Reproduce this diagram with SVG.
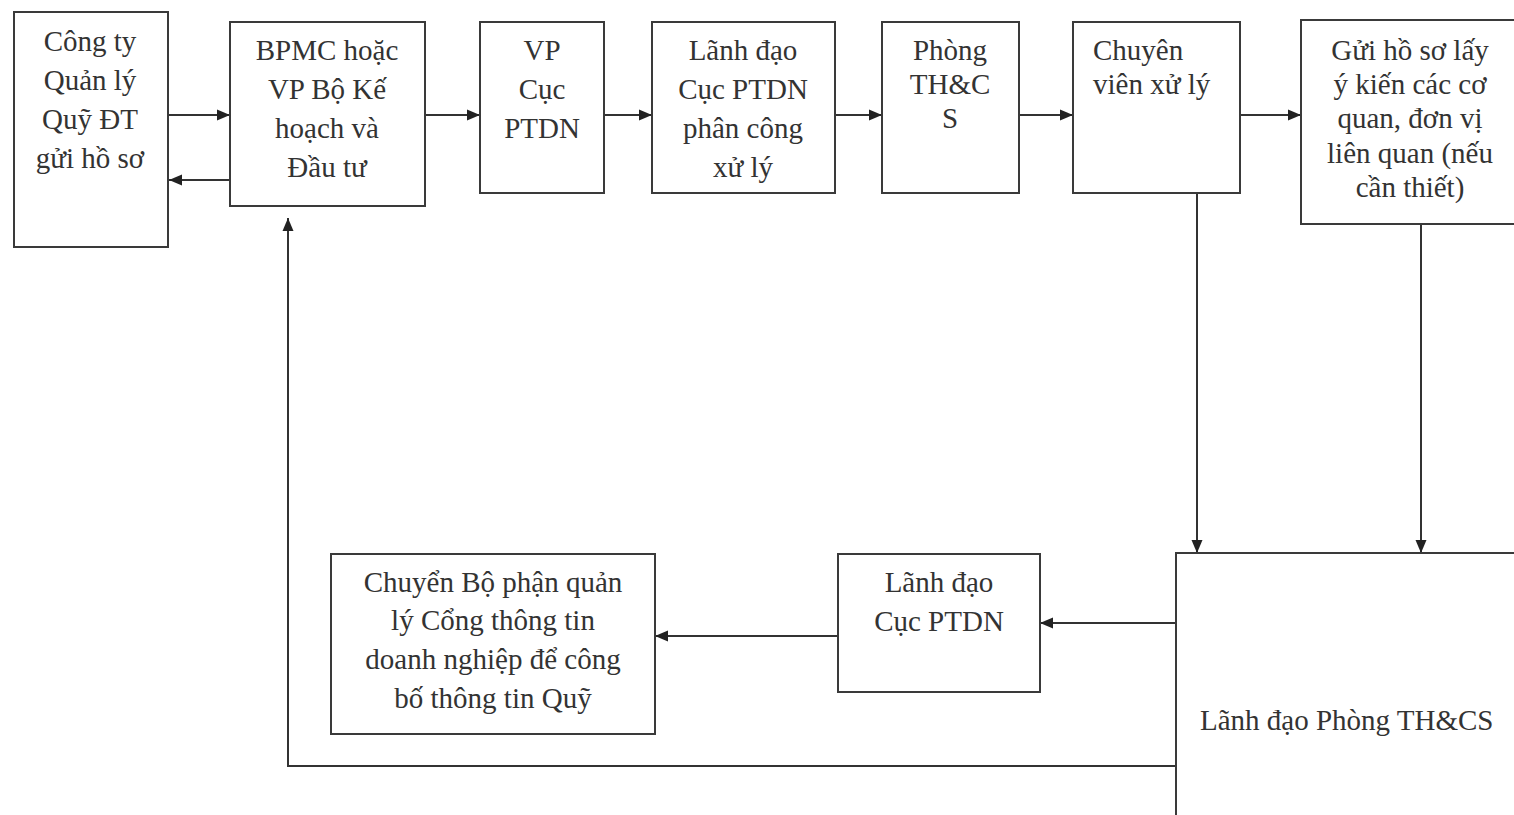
<svg xmlns="http://www.w3.org/2000/svg" width="1514" height="815" viewBox="0 0 1514 815">
<defs>
<marker id="ah" markerUnits="userSpaceOnUse" markerWidth="14" markerHeight="12" refX="13" refY="6" orient="auto">
<path d="M0,0.5 L13,6 L0,11.5 z" fill="#222"/>
</marker>
<style>
.box{fill:#fff;stroke:#3a3a3a;stroke-width:2}
.t{font-family:"Liberation Serif","Times New Roman",serif;font-size:29px;fill:#333;text-anchor:middle}
.l{text-anchor:start}
.c{fill:none;stroke:#333;stroke-width:2}
</style>
</defs>
<rect width="1514" height="815" fill="#fff"/>
<g id="connectors">
<line class="c" x1="168" y1="115" x2="230" y2="115" marker-end="url(#ah)"/>
<line class="c" x1="230" y1="180" x2="169" y2="180" marker-end="url(#ah)"/>
<line class="c" x1="425" y1="115" x2="480" y2="115" marker-end="url(#ah)"/>
<line class="c" x1="604" y1="115" x2="652" y2="115" marker-end="url(#ah)"/>
<line class="c" x1="835" y1="115" x2="882" y2="115" marker-end="url(#ah)"/>
<line class="c" x1="1019" y1="115" x2="1073" y2="115" marker-end="url(#ah)"/>
<line class="c" x1="1240" y1="115" x2="1301" y2="115" marker-end="url(#ah)"/>
<line class="c" x1="1197" y1="193" x2="1197" y2="553" marker-end="url(#ah)"/>
<line class="c" x1="1421" y1="224" x2="1421" y2="553" marker-end="url(#ah)"/>
<line class="c" x1="1176" y1="623" x2="1040" y2="623" marker-end="url(#ah)"/>
<line class="c" x1="838" y1="636" x2="655" y2="636" marker-end="url(#ah)"/>
<polyline class="c" points="1176,766 288,766 288,218" marker-end="url(#ah)"/>
</g>
<g id="n1"><rect class="box" x="14" y="12" width="154" height="235"/>
<text class="t" x="90" y="51">Công ty</text><text class="t" x="90" y="90">Quản lý</text><text class="t" x="90" y="129">Quỹ ĐT</text><text class="t" x="90" y="168">gửi hồ sơ</text></g>
<g id="n2"><rect class="box" x="230" y="22" width="195" height="184"/>
<text class="t" x="327" y="60">BPMC hoặc</text><text class="t" x="327" y="99">VP Bộ Kế</text><text class="t" x="327" y="138">hoạch và</text><text class="t" x="327" y="177">Đầu tư</text></g>
<g id="n3"><rect class="box" x="480" y="22" width="124" height="171"/>
<text class="t" x="542" y="60">VP</text><text class="t" x="542" y="99">Cục</text><text class="t" x="542" y="138">PTDN</text></g>
<g id="n4"><rect class="box" x="652" y="22" width="183" height="171"/>
<text class="t" x="743" y="60">Lãnh đạo</text><text class="t" x="743" y="99">Cục PTDN</text><text class="t" x="743" y="138">phân công</text><text class="t" x="743" y="177">xử lý</text></g>
<g id="n5"><rect class="box" x="882" y="22" width="137" height="171"/>
<text class="t" x="950" y="60">Phòng</text><text class="t" x="950" y="94">TH&amp;C</text><text class="t" x="950" y="128">S</text></g>
<g id="n6"><rect class="box" x="1073" y="22" width="167" height="171"/>
<text class="t l" x="1093" y="60">Chuyên</text><text class="t l" x="1093" y="94">viên xử lý</text></g>
<g id="n7"><rect class="box" x="1301" y="20" width="260" height="204"/>
<text class="t" x="1410" y="60">Gửi hồ sơ lấy</text><text class="t" x="1410" y="94">ý kiến các cơ</text><text class="t" x="1410" y="128">quan, đơn vị</text><text class="t" x="1410" y="163">liên quan (nếu</text><text class="t" x="1410" y="197">cần thiết)</text></g>
<g id="n8"><rect class="box" x="1176" y="553" width="400" height="300"/>
<text class="t l" x="1200" y="730">Lãnh đạo Phòng TH&amp;CS</text></g>
<g id="n9"><rect class="box" x="838" y="554" width="202" height="138"/>
<text class="t" x="939" y="592">Lãnh đạo</text><text class="t" x="939" y="631">Cục PTDN</text></g>
<g id="n10"><rect class="box" x="331" y="554" width="324" height="180"/>
<text class="t" x="493" y="592">Chuyển Bộ phận quản</text><text class="t" x="493" y="630">lý Cổng thông tin</text><text class="t" x="493" y="669">doanh nghiệp để công</text><text class="t" x="493" y="708">bố thông tin Quỹ</text></g>
</svg>
